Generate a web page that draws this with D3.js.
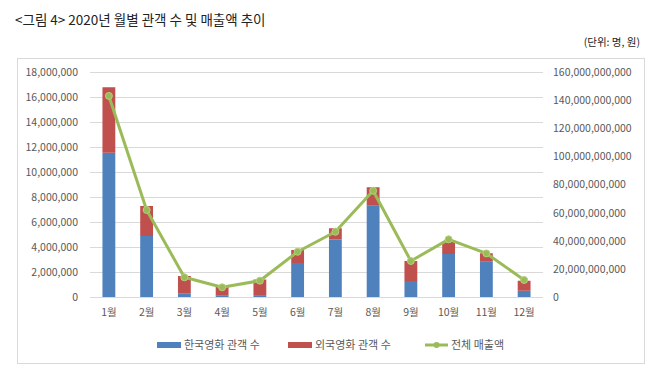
<!DOCTYPE html>
<html>
<head>
<meta charset="utf-8">
<script src="https://cdn.jsdelivr.net/npm/d3@7"></script>
<style>
  body { margin: 0; background: #fff; }
  svg { font-family: "Noto Sans CJK KR", "Noto Sans", sans-serif; }
</style>
</head>
<body>
<svg id="chart"></svg>
<script>
const months = ["1월","2월","3월","4월","5월","6월","7월","8월","9월","10월","11월","12월"];
const korean = [11540000, 4880000, 300000, 100000, 150000, 2720000, 4600000, 7300000, 1280000, 3440000, 2820000, 500000];
const foreign = [5240000, 2400000, 1380000, 720000, 1250000, 1040000, 900000, 1480000, 1600000, 980000, 680000, 800000];
const revenue = [143000000000, 61900000000, 14000000000, 6900000000, 11600000000, 32200000000, 46400000000, 75600000000, 25600000000, 41000000000, 31000000000, 12100000000];
const leftTicks = d3.range(0, 18000001, 2000000);
const rightTicks = d3.range(0, 160000000001, 20000000000);
const seriesNames = ["한국영화 관객 수", "외국영화 관객 수", "전체 매출액"];

const width = 660, height = 378;
const svg = d3.select("#chart").attr("width", width).attr("height", height);

const blue = "#4f81bd", red = "#c0504d", green = "#9bbb59";

// title
svg.append("text").attr("x", 15).attr("y", 25)
   .attr("font-size", 13.5).attr("fill", "#222")
   .text("<그림 4> 2020년 월별 관객 수 및 매출액 추이");
svg.append("text").attr("x", 640).attr("y", 46).attr("text-anchor", "end")
   .attr("font-size", 10.5).attr("fill", "#222")
   .text("(단위: 명, 원)");

// frame
svg.append("rect").attr("x", 17.5).attr("y", 58.5).attr("width", 627).attr("height", 305)
   .attr("fill", "none").attr("stroke", "#d9d9d9");

const x = d3.scaleBand(months, [90, 543]).paddingInner(0.66).paddingOuter(0.33);
const yL = d3.scaleLinear([0, 18000000], [297, 72]);
const yR = d3.scaleLinear([0, 160000000000], [297, 72]);

// gridlines
svg.append("g").selectAll("line").data(leftTicks).join("line")
   .attr("x1", 90).attr("x2", 543)
   .attr("y1", d => Math.round(yL(d)) + 0.5).attr("y2", d => Math.round(yL(d)) + 0.5)
   .attr("stroke", "#d9d9d9");

const fmt = d3.format(",");
const axL = svg.append("g").attr("transform", "translate(90,0)")
   .call(d3.axisLeft(yL).tickValues(leftTicks).tickFormat(fmt).tickSize(0).tickPadding(12));
const axR = svg.append("g").attr("transform", "translate(543,0)")
   .call(d3.axisRight(yR).tickValues(rightTicks).tickFormat(fmt).tickSize(0).tickPadding(10));
const axB = svg.append("g").attr("transform", "translate(0,297)")
   .call(d3.axisBottom(x).tickSize(0).tickPadding(12));
[axL, axR, axB].forEach(a => {
  a.select(".domain").remove();
  a.selectAll("text").attr("font-size", 10.5).attr("fill", "#595959")
   .attr("font-family", "\"Noto Sans CJK KR\", sans-serif");
});

// stacked bars
const bars = svg.append("g");
months.forEach((m, i) => {
  bars.append("rect").attr("x", x(m)).attr("width", x.bandwidth())
      .attr("y", yL(korean[i])).attr("height", yL(0) - yL(korean[i]))
      .attr("fill", blue);
  bars.append("rect").attr("x", x(m)).attr("width", x.bandwidth())
      .attr("y", yL(korean[i] + foreign[i])).attr("height", yL(korean[i]) - yL(korean[i] + foreign[i]))
      .attr("fill", red);
});

// revenue line
const cx = (d, i) => x(months[i]) + x.bandwidth() / 2;
svg.append("path").datum(revenue)
   .attr("fill", "none").attr("stroke", green).attr("stroke-width", 3)
   .attr("stroke-linejoin", "round")
   .attr("d", d3.line(cx, d => yR(d)));
svg.append("g").selectAll("circle").data(revenue).join("circle")
   .attr("cx", cx).attr("cy", d => yR(d)).attr("r", 3.5)
   .attr("fill", green).attr("stroke", "#b5cf7f").attr("stroke-width", 1);

// legend
const leg = svg.append("g").attr("font-size", 11).attr("fill", "#595959");
leg.append("rect").attr("x", 157).attr("y", 342).attr("width", 24).attr("height", 6).attr("fill", blue);
leg.append("text").attr("x", 184).attr("y", 349).attr("fill", "#595959").text(seriesNames[0]);
leg.append("rect").attr("x", 288).attr("y", 342).attr("width", 24).attr("height", 6).attr("fill", red);
leg.append("text").attr("x", 315).attr("y", 349).attr("fill", "#595959").text(seriesNames[1]);
leg.append("line").attr("x1", 425).attr("x2", 448).attr("y1", 345).attr("y2", 345)
   .attr("stroke", green).attr("stroke-width", 3);
leg.append("circle").attr("cx", 436.5).attr("cy", 345).attr("r", 3).attr("fill", green);
leg.append("text").attr("x", 451).attr("y", 349).attr("fill", "#595959").text(seriesNames[2]);
</script>
</body>
</html>
